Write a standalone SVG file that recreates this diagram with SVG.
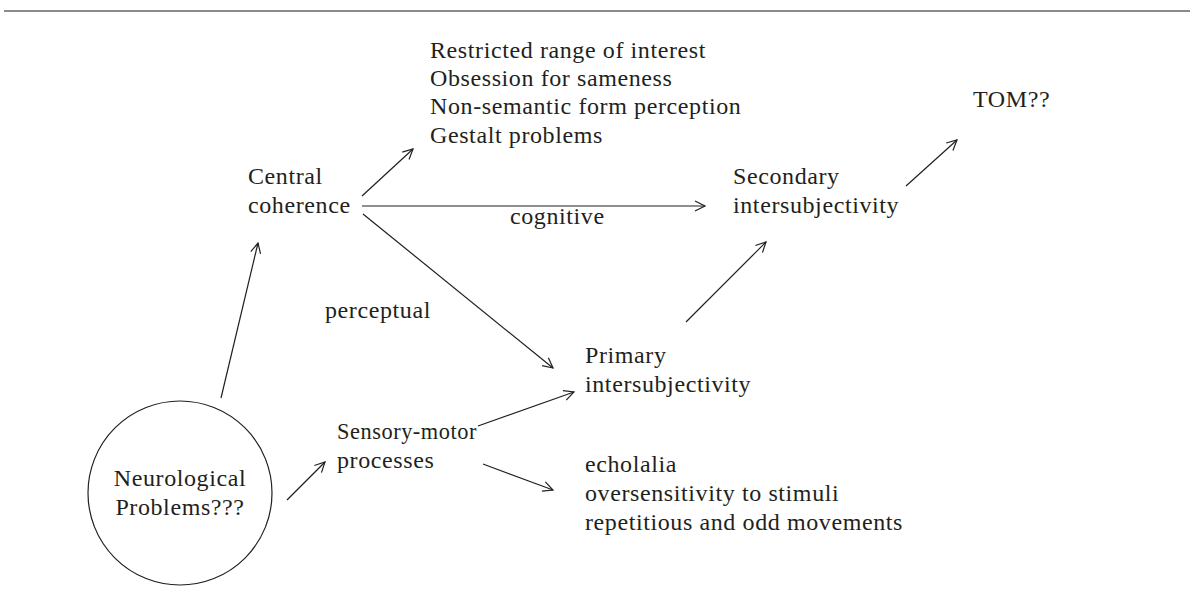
<svg xmlns="http://www.w3.org/2000/svg" width="1190" height="596" viewBox="0 0 1190 596">
<style>
text{font-family:"Liberation Serif","Times New Roman",serif;font-size:24px;fill:#231f20;letter-spacing:0.6px}
.c{fill:none;stroke:#231f20;stroke-width:1.2}
.m{text-anchor:middle}
</style>
<defs>
<marker id="ah" markerUnits="userSpaceOnUse" markerWidth="14" markerHeight="14" refX="11" refY="6" orient="auto">
<path d="M1,1 L11,6 L1,11" fill="none" stroke="#231f20" stroke-width="1.2"/>
</marker>
</defs>
<rect width="1190" height="596" fill="#fff"/>
<line x1="4" y1="11" x2="1190" y2="11" stroke="#8a8a8a" stroke-width="2"/>
<g id="connectors" class="c" marker-end="url(#ah)">
<line x1="221" y1="398" x2="258" y2="243"/>
<line x1="287" y1="500" x2="325" y2="462"/>
<line x1="362" y1="196" x2="413" y2="149"/>
<line x1="362" y1="206" x2="705" y2="206"/>
<line x1="363" y1="214" x2="553" y2="368"/>
<line x1="686" y1="322" x2="766" y2="242"/>
<line x1="906" y1="186" x2="957" y2="140"/>
<line x1="478" y1="426" x2="574" y2="392"/>
<line x1="483" y1="464" x2="553" y2="490"/>
</g>
<g id="neuro">
<circle cx="180" cy="493" r="92" fill="none" stroke="#231f20" stroke-width="1.2"/>
<text class="m" x="180" y="486">Neurological</text>
<text class="m" x="180" y="515">Problems???</text>
</g>
<g id="central"><text x="248" y="184">Central</text><text x="248" y="213">coherence</text></g>
<g id="central-effects">
<text x="430" y="58">Restricted range of interest</text>
<text x="430" y="86">Obsession for sameness</text>
<text x="430" y="114">Non-semantic form perception</text>
<text x="430" y="143">Gestalt problems</text>
</g>
<g id="tom"><text x="973" y="107">TOM??</text></g>
<g id="secondary"><text x="733" y="184">Secondary</text><text x="733" y="213">intersubjectivity</text></g>
<g id="label-cognitive"><text x="510" y="224">cognitive</text></g>
<g id="label-perceptual"><text x="325" y="318">perceptual</text></g>
<g id="primary"><text x="585" y="363">Primary</text><text x="585" y="392">intersubjectivity</text></g>
<g id="sensory"><text x="337" y="439" textLength="140" lengthAdjust="spacingAndGlyphs">Sensory-motor</text><text x="337" y="468">processes</text></g>
<g id="sensory-effects">
<text x="585" y="472">echolalia</text>
<text x="585" y="501">oversensitivity to stimuli</text>
<text x="585" y="530">repetitious and odd movements</text>
</g>
</svg>
